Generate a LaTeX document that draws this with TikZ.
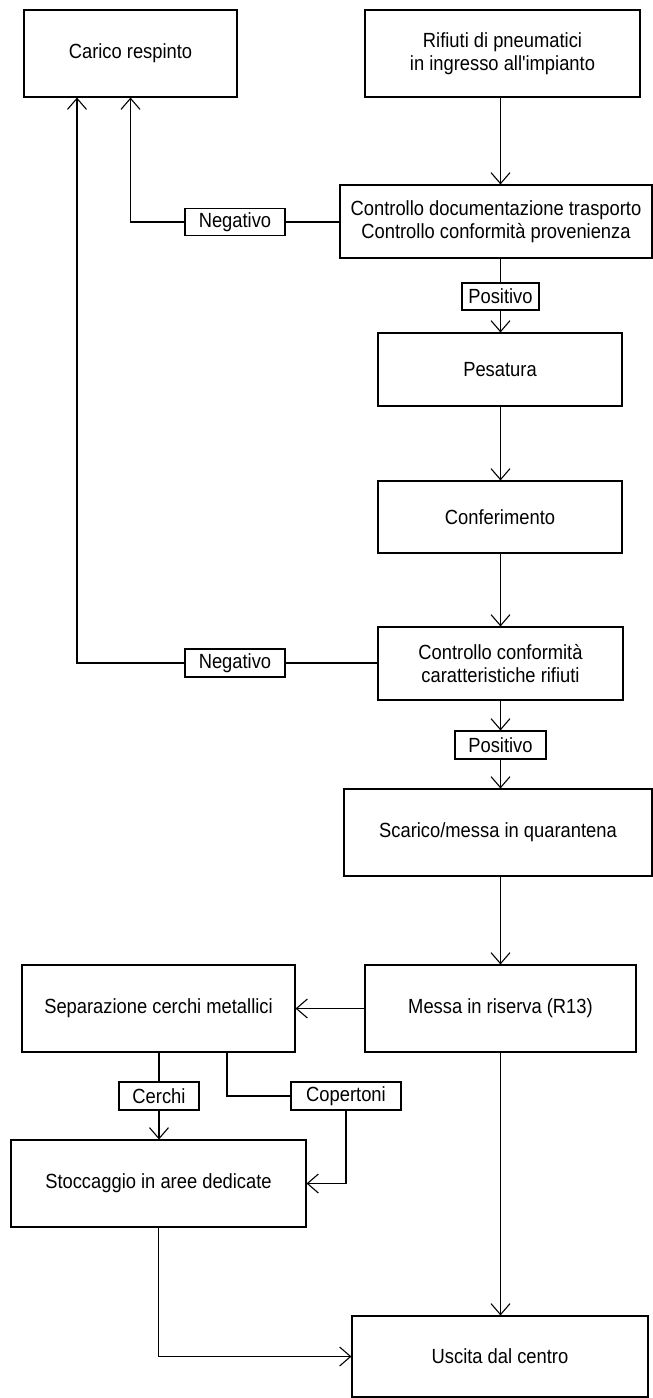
\documentclass[tikz,border=0pt]{standalone}
\usepackage{fontspec}
\setmainfont{Liberation Sans}[FakeStretch=0.895,Ligatures=TeXOff]
\usetikzlibrary{arrows.meta,calc}
\begin{document}
\begin{tikzpicture}[x=1pt,y=-1pt,
  every node/.style={font=\fontsize{20.5}{22.5}\selectfont},
  box/.style={draw,line width=1.1pt,align=center,inner sep=0pt,
    minimum width=#1},
  proc/.style={box=#1,minimum height=87pt},
  check/.style={box=#1,minimum height=73pt},
  tag/.style={box=#1,minimum height=27pt},
  link/.style={line width=1.1pt},
  arr/.style={link,-{Straight Barb[length=11pt,width=19pt]}}]
\useasboundingbox (0,0) rectangle (653,1398);

% process boxes
\node[proc=213pt] (carico) at (130.5,53.5) {Carico respinto};
\node[proc=275pt] (rifiuti) at (502.5,53.5) {Rifiuti di pneumatici\\in ingresso all'impianto};
\node[check=312pt] (ctrldoc) at (496,221.5) {Controllo documentazione trasporto\\Controllo conformità provenienza};
\node[check=244pt] (pesatura) at (500,369.5) {Pesatura};
\node[check=244pt,minimum height=72pt] (conferimento) at (500,517) {Conferimento};
\node[check=245pt] (ctrlconf) at (500.5,663.5) {Controllo conformità\\caratteristiche rifiuti};
\node[proc=308pt] (scarico) at (498,832.5) {Scarico/messa in quarantena};
\node[proc=271pt] (messa) at (500.5,1008.5) {Messa in riserva (R13)};
\node[proc=273pt] (separazione) at (158.5,1008.5) {Separazione cerchi metallici};
\node[proc=295pt] (stoccaggio) at (158.5,1183.5) {Stoccaggio in aree dedicate};
\node[proc=296pt,minimum height=81pt] (uscita) at (500,1356.5) {Uscita dal centro};

% outcome tags
\node[tag=100pt] (neg1) at (235,222) {Negativo};
\node[tag=77pt] (pos1) at (500.5,296.5) {Positivo};
\node[tag=100pt,minimum height=28pt] (neg2) at (235,663) {Negativo};
\node[tag=91pt,minimum height=28pt] (pos2) at (500.5,745) {Positivo};
\node[tag=80pt,minimum height=28pt] (cerchi) at (159,1096) {Cerchi};
\node[tag=110pt,minimum height=28pt] (copertoni) at (346,1096) {Copertoni};

% main flow
\draw[arr] (rifiuti.south -| pos1) -- (ctrldoc.north -| pos1);
\draw[link] (ctrldoc.south -| pos1) -- (pos1.north);
\draw[arr] (pos1.south) -- (pesatura.north -| pos1);
\draw[arr] (pesatura.south -| pos1) -- (conferimento.north -| pos1);
\draw[arr] (conferimento.south -| pos1) -- (ctrlconf.north -| pos1);
\draw[arr] (ctrlconf.south -| pos2) -- (pos2.north);
\draw[arr] (pos2.south) -- (scarico.north -| pos2);
\draw[arr] (scarico.south -| messa) -- (messa.north);
\draw[arr] (messa.south) -- (uscita.north -| messa);

% rejections
\draw[link] (ctrldoc.west |- neg1) -- (neg1.east);
\draw[arr] (neg1.west) -| (carico.south);
\draw[link] (ctrlconf.west |- neg2) -- (neg2.east);
\draw[arr] (neg2.west) -| ($(carico.south west)!0.25!(carico.south east)$);

% separation branch
\draw[arr] (messa.west) -- (separazione.east);
\draw[link] (separazione.south -| cerchi) -- (cerchi.north);
\draw[arr] (cerchi.south) -- (stoccaggio.north -| cerchi);
\draw[link] ($(separazione.south west)!0.75!(separazione.south east)$) |- (copertoni.west);
\draw[arr] (copertoni.south) |- (stoccaggio.east);
\draw[arr] (stoccaggio.south) |- (uscita.west);
\end{tikzpicture}
\end{document}
